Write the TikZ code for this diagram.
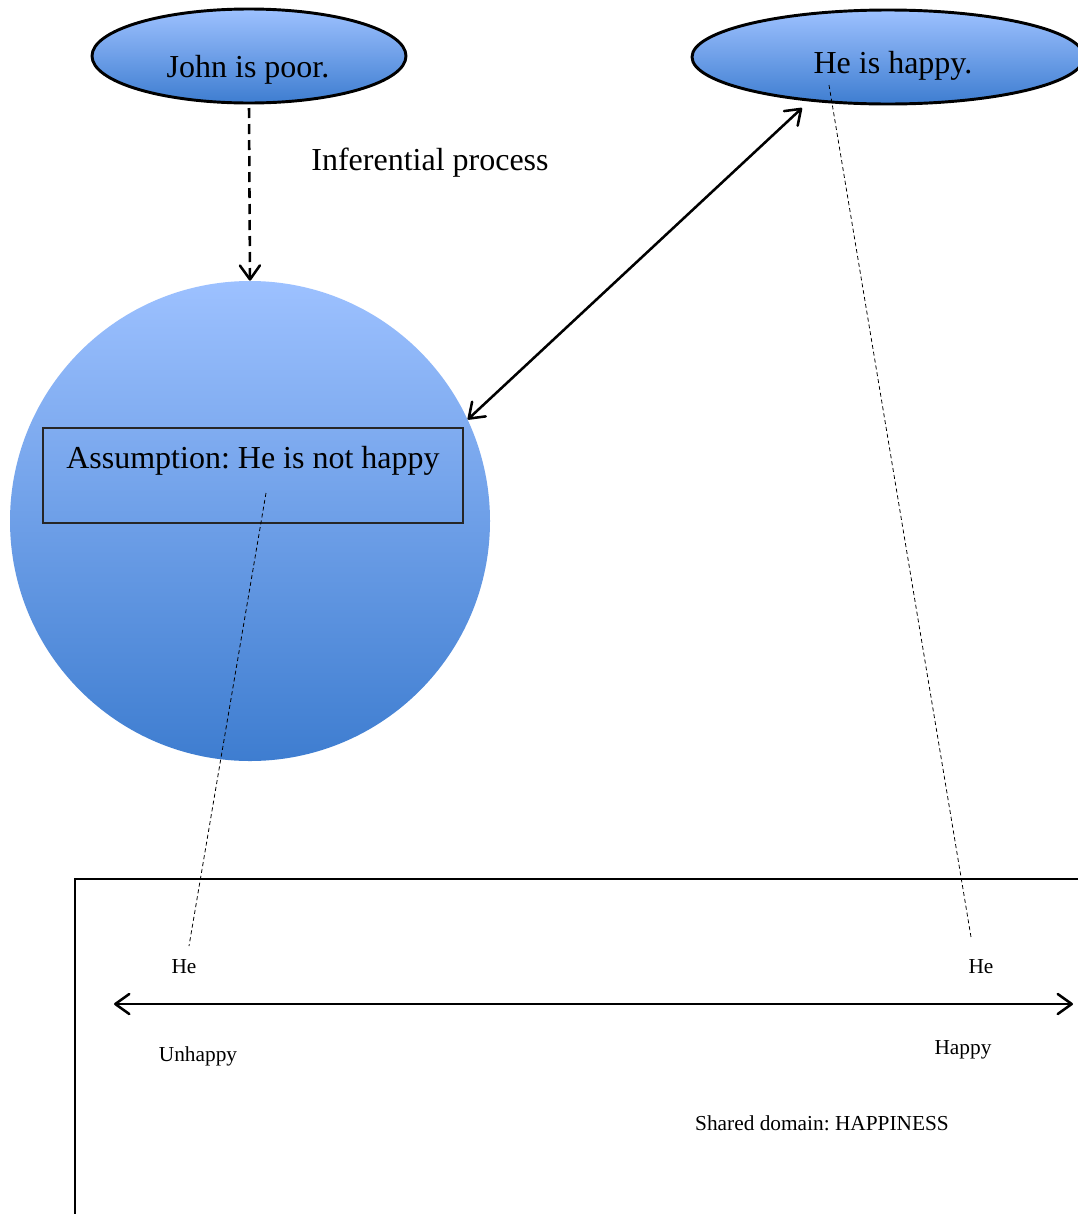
\documentclass[tikz,border=0pt]{standalone}
\usepackage{fontspec}
\setmainfont{Liberation Serif}
\usetikzlibrary{shapes.geometric,arrows.meta}
\pgfdeclarearrow{
  name = OpenVee,
  defaults = { length = 10pt, width = 15pt },
  parameters = { \the\pgfarrowlength,\the\pgfarrowwidth,\the\pgflinewidth },
  setup code = {
    \pgfarrowssettipend{0.5\pgflinewidth}
    \pgfarrowssetlineend{-0.5\pgflinewidth}
    \pgfarrowssetbackend{-\pgfarrowlength}
    \pgfarrowssavethe\pgfarrowlength
    \pgfarrowssavethe\pgfarrowwidth
  },
  drawing code = {
    \pgfsetdash{}{0pt}
    \pgfsetroundjoin
    \pgfsetroundcap
    \pgfpathmoveto{\pgfqpoint{-\pgfarrowlength}{0.5\pgfarrowwidth}}
    \pgfpathlineto{\pgfqpoint{0pt}{0pt}}
    \pgfpathlineto{\pgfqpoint{-\pgfarrowlength}{-0.5\pgfarrowwidth}}
    \pgfusepathqstroke
  }
}
\definecolor{bluetop}{RGB}{157,193,255}
\definecolor{bluebot}{RGB}{62,125,208}
\tikzset{
  big/.style={font=\fontsize{24}{28}\selectfont},
  small/.style={font=\fontsize{16}{19}\selectfont},
  blobfill/.style={top color=bluetop, bottom color=bluebot},
  bubble/.style={ellipse, draw=black, line width=2.2pt, blobfill, inner sep=0pt, big},
  barb/.tip={OpenVee[length=10.5pt,width=15pt]},
  mainarrow/.style={line width=1.9pt},
  thindash/.style={line width=0.6pt, dash pattern=on 3pt off 2.2pt},
}
\frenchspacing
\begin{document}
\begin{tikzpicture}[x=0.75pt,y=-0.75pt]
\clip (0,0) rectangle (1078,1214);
\useasboundingbox (0,0) rectangle (1078,1214);
\fill[white] (0,0) rectangle (1078,1214);

% top ellipses
\node[bubble, minimum width=235.5pt, minimum height=70.5pt] (john) at (249,56) {};
\node[big] (johnt) at (248,70) {John is poor.};
\node[bubble, minimum width=294pt, minimum height=70.5pt] (happy) at (888,57) {};
\node[big] (happyt) at (893,66) {He is happy.};

% circle
\node[circle, blobfill, minimum size=360pt, inner sep=0pt] (circ) at (250,521) {};
\node[draw=black!85, line width=0.8pt, minimum width=315pt, minimum height=71.25pt, inner sep=0pt] (assume) at (253,475.5) {};
\node[big] (assumet) at (253,461) {Assumption: He is not happy};

% inferential process
\node[big] (infer) at (430,163) {Inferential process};

% dashed arrow
\coordinate (dstart) at (249,108);
\draw[mainarrow, dash pattern=on 7.5pt off 4.5pt, -barb] (dstart) -- (circ.north);

% double arrow
\coordinate (hapend) at (802,108);
\draw[mainarrow, barb-barb] (circ.25) -- (hapend);

% bottom box
\coordinate (boxtl) at (75,879);
\coordinate (boxbr) at (1110,1250);
\draw[line width=1.8pt] (boxtl) rectangle (boxbr);

% scale arrow
\coordinate (scl) at (114,1004);
\coordinate (scr) at (1073,1004);
\draw[mainarrow, barb-barb] (scl) -- (scr);

% labels
\node[small] (heL) at (184,967) {He};
\node[small] (heR) at (981,967) {He};
\node[small] (unh) at (198,1056) {Unhappy};
\node[small] (hap) at (963,1050) {Happy};
\node[small] (dom) at (822,1123) {Shared domain: HAPPINESS};

% thin dashed lines
\coordinate (dL0) at (266,493);
\coordinate (dL1) at (189,946);
\coordinate (dR0) at (829,85);
\coordinate (dR1) at (971,937);
\draw[thindash] (dL0) -- (dL1);
\draw[thindash] (dR0) -- (dR1);
\end{tikzpicture}
\end{document}
